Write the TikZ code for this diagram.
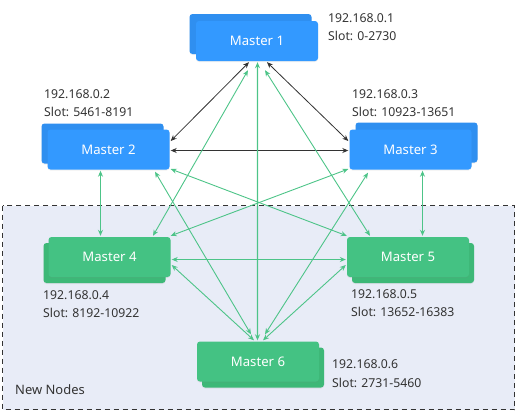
\documentclass[tikz,border=0pt]{standalone}
\usepackage{fontspec}
\setmainfont{Noto Sans}
\usetikzlibrary{arrows.meta,calc,shadows}
\definecolor{bluefront}{HTML}{3399FF}
\definecolor{blueback}{HTML}{2F8FF0}
\definecolor{greenfront}{HTML}{44C283}
\definecolor{greenback}{HTML}{3DB877}
\definecolor{greenline}{HTML}{4DC488}
\definecolor{darkline}{HTML}{333333}
\definecolor{regionfill}{HTML}{E8ECF7}
\definecolor{txt}{HTML}{333333}
\tikzset{
  boxbase/.style={minimum width=122bp,minimum height=40bp,rounded corners=3bp,inner sep=0pt,
    drop shadow={opacity=0.12,shadow xshift=0pt,shadow yshift=-1bp}},
  bluefrontbox/.style={boxbase,fill=bluefront,text=white,font=\fontsize{13.2}{16}\selectfont},
  bluebackbox/.style={boxbase,fill=blueback},
  greenfrontbox/.style={boxbase,fill=greenfront,text=white,font=\fontsize{13.2}{16}\selectfont},
  greenbackbox/.style={boxbase,fill=greenback},
  info/.style={anchor=west,inner sep=0pt,align=left,text=txt,font=\fontsize{12.3}{18.5}\selectfont},
  blk/.style={draw=darkline,line width=0.8bp,{Stealth[length=6bp,width=5bp]}-{Stealth[length=6bp,width=5bp]}},
  grn/.style={draw=greenline,line width=0.9bp,{Stealth[length=6bp,width=5bp]}-{Stealth[length=6bp,width=5bp]}},
}
\begin{document}
\begin{tikzpicture}[x=1bp,y=-1bp]
\useasboundingbox (0,0) rectangle (516,414);
% region
\draw[darkline,fill=regionfill,dash pattern=on 5bp off 4bp,line width=0.8bp] (2.5,205.5) rectangle (514.5,409.5);
\node[anchor=west,inner sep=0pt,text=txt,font=\fontsize{13}{15}\selectfont] (newnodes) at (15,390) {New Nodes};
% back boxes
\node[bluebackbox] (m1b) at (250.5,34) {};
\node[bluebackbox] (m2b) at (102.5,143.5) {};
\node[bluebackbox] (m3b) at (416.5,142.5) {};
\node[greenbackbox] (m4b) at (104.5,263) {};
\node[greenbackbox] (m5b) at (413,263) {};
\node[greenbackbox] (m6b) at (263,367.5) {};
% front boxes
\node[bluefrontbox] (m1) at (257,41) {Master 1};
\node[bluefrontbox] (m2) at (108.5,149.5) {Master 2};
\node[bluefrontbox] (m3) at (410.5,149.5) {Master 3};
\node[greenfrontbox] (m4) at (109.5,257) {Master 4};
\node[greenfrontbox] (m5) at (408,257) {Master 5};
\node[greenfrontbox] (m6) at (258,361.5) {Master 6};
% labels
\node[info] (l1) at (328,27) {192.168.0.1\\Slot: 0-2730};
\node[info] (l2) at (44,103) {192.168.0.2\\Slot: 5461-8191};
\node[info] (l3) at (352,103) {192.168.0.3\\Slot: 10923-13651};
\node[info] (l4) at (43,304) {192.168.0.4\\Slot: 8192-10922};
\node[info] (l5) at (351,303) {192.168.0.5\\Slot: 13652-16383};
\node[info] (l6) at (332,373.5) {192.168.0.6\\Slot: 2731-5460};
% black connectors
\draw[blk] ($(m1.south)+(-8,1)$) -- ($(m2.east)+(1,-8.5)$);
\draw[blk] ($(m1.south)+(10,1)$) -- ($(m3.west)+(-1,-8.5)$);
\draw[blk] ($(m2.east)+(1,1)$) -- ($(m3.west)+(-1,1)$);
% green connectors
\draw[grn] ($(m2.south)+(-8,1)$) -- ($(m4.north)+(-9,-1)$);
\draw[grn] ($(m3.south)+(12,1)$) -- ($(m5.north)+(14.5,-1)$);
\draw[grn] ($(m4.east)+(1,2.5)$) -- ($(m5.west)+(-1,2.5)$);
\draw[grn,line width=1.4bp] ($(m1.south)+(0.5,1)$) -- ($(m6.north)+(-0.5,-1)$);
\draw[grn] ($(m1.south)+(-9,9)$) -- ($(m4.north)+(43.5,-1)$);
\draw[grn] ($(m1.south)+(8,9)$) -- ($(m5.north)+(-38,-1)$);
\draw[grn] ($(m2.east)+(1,19.5)$) -- ($(m5.north west)+(0,-1)$);
\draw[grn] ($(m3.west)+(-1,19.5)$) -- ($(m4.north east)+(0,-1)$);
\draw[grn] ($(m2.south)+(46.5,2)$) -- ($(m6.north)+(-7,-7)$);
\draw[grn] ($(m3.south)+(-42.5,3)$) -- ($(m6.north)+(7,-7)$);
\draw[grn] ($(m4.east)+(1,8)$) -- ($(m6.north)+(-4,-1)$);
\draw[grn] ($(m5.west)+(-1,8)$) -- ($(m6.north)+(5,-1)$);
\end{tikzpicture}
\end{document}
